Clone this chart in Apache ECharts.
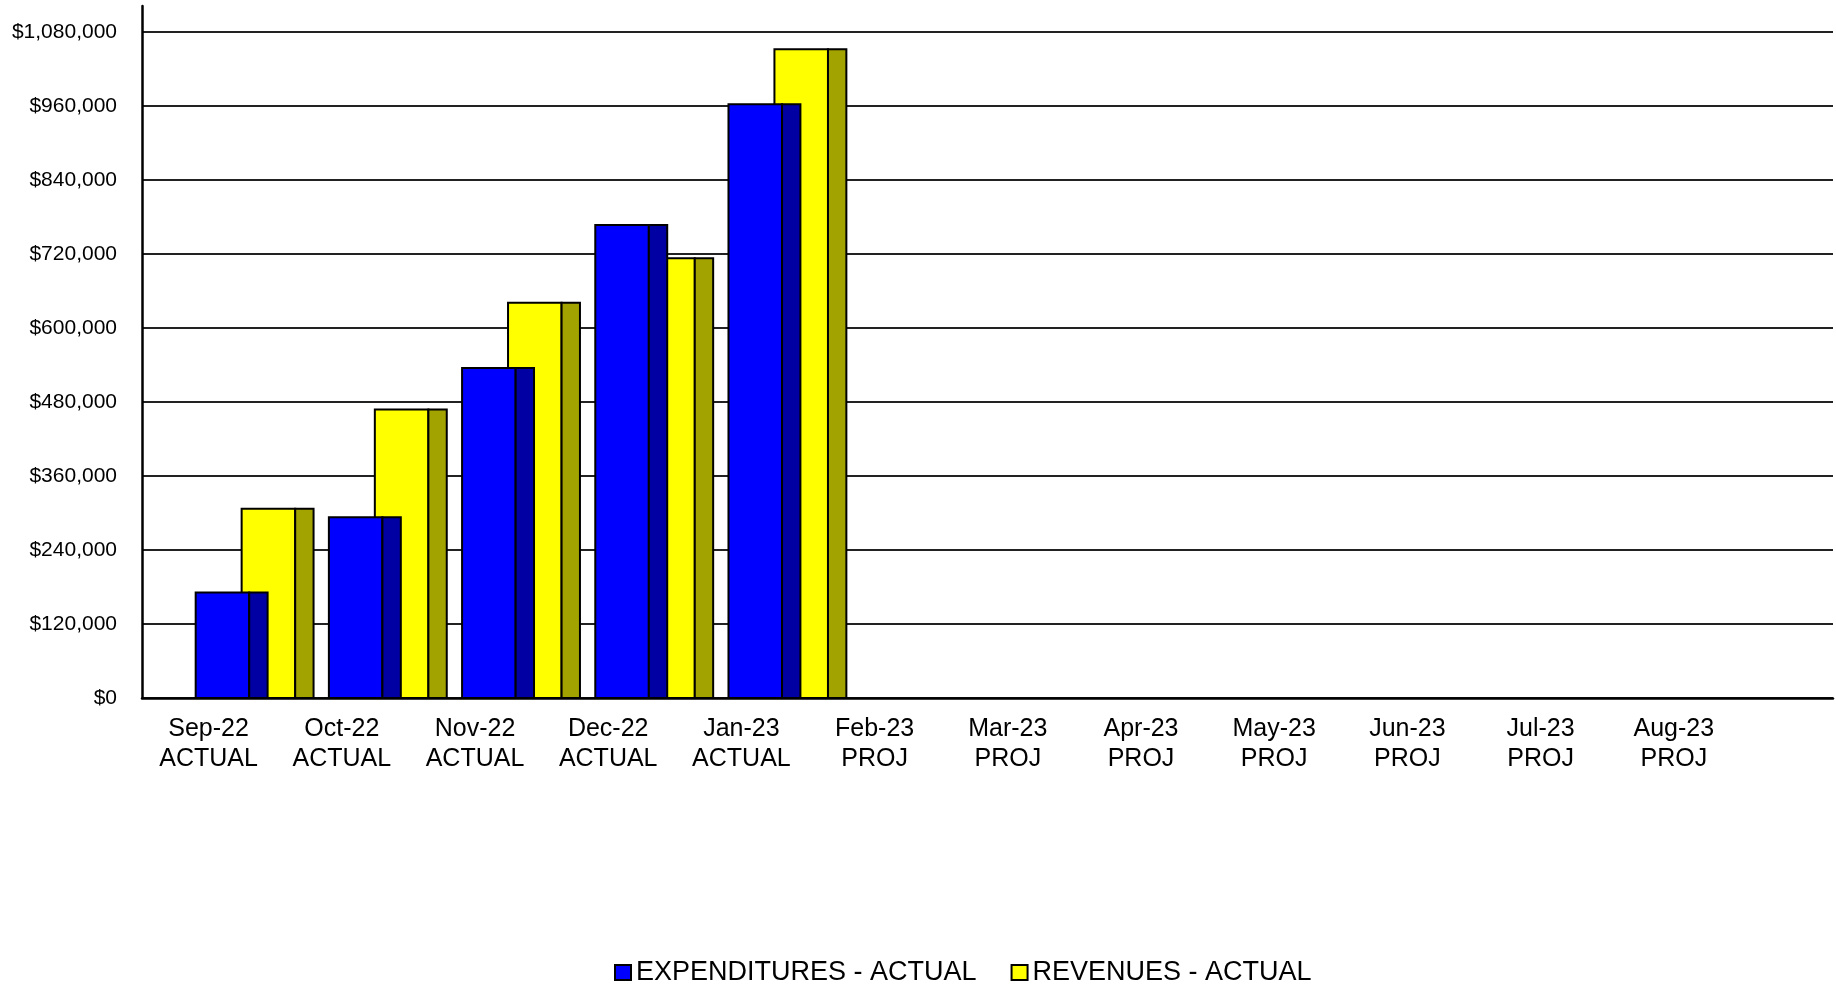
<!DOCTYPE html>
<html lang="en">
<head>
    <meta charset="UTF-8">
    <title>Expenditures vs Revenues</title>
    <style>
        html, body { margin: 0; padding: 0; background: #fff; }
        #main { width: 1836px; height: 986px; }
    </style>
    <script src="https://cdn.jsdelivr.net/npm/echarts@6/dist/echarts.min.js"></script>
</head>
<body>
<div id="main"></div>
<script>
    // data
    const months = ['Sep-22', 'Oct-22', 'Nov-22', 'Dec-22', 'Jan-23', 'Feb-23',
        'Mar-23', 'Apr-23', 'May-23', 'Jun-23', 'Jul-23', 'Aug-23']
    const status = ['ACTUAL', 'ACTUAL', 'ACTUAL', 'ACTUAL', 'ACTUAL', 'PROJ',
        'PROJ', 'PROJ', 'PROJ', 'PROJ', 'PROJ', 'PROJ']
    const expenditures = [171000, 293000, 535000, 767000, 963000, null, null, null, null, null, null, null]
    const revenues = [307000, 468000, 641000, 713000, 1052000, null, null, null, null, null, null, null]
    const yMax = 1080000
    const yStep = 120000

    const categories = months.map((m, i) => m + '\n' + status[i])
    const FONT = '"Liberation Sans", Arial, sans-serif'

    // "3d" bar: front face plus darker side face, offsets as fraction of band width
    function barRenderer(front, side, start) {
        return function (params, api) {
            const v = api.value(1)
            if (v == null || isNaN(v)) return
            const idx = api.value(0)
            const base = api.coord([idx, 0])
            const top = api.coord([idx, v])
            const band = api.size([1, 0])[0]
            const x0 = base[0] + start * band
            const fw = 0.402 * band
            const sw = 0.138 * band
            const h = base[1] - top[1]
            const st = {stroke: '#000', lineWidth: 2}
            return {
                type: 'group',
                children: [
                    {type: 'rect', shape: {x: x0, y: top[1], width: fw, height: h},
                        style: Object.assign({fill: front}, st)},
                    {type: 'rect', shape: {x: x0 + fw, y: top[1], width: sw, height: h},
                        style: Object.assign({fill: side}, st)}
                ]
            }
        }
    }

    const toPairs = arr => arr.map((v, i) => [i, v]).filter(d => d[1] != null)

    const chart = echarts.init(document.getElementById('main'))
    chart.setOption({
        animation: false,
        textStyle: {fontFamily: FONT},
        grid: [
            {left: 142, top: 32, bottom: 288, width: 1598.4},   // bars
            {left: 142, top: 32, bottom: 288, right: 3},         // gridlines
            {left: 142, top: 6, bottom: 288, width: 10}          // y axis line
        ],
        legend: {
            left: 609, top: 954,
            data: ['EXPENDITURES - ACTUAL', 'REVENUES - ACTUAL'],
            icon: 'rect', itemWidth: 16, itemHeight: 15, itemGap: 34,
            textStyle: {fontSize: 27, color: '#000', fontFamily: FONT}
        },
        xAxis: [
            {
                type: 'category', gridIndex: 0, data: categories,
                axisLine: {show: false}, axisTick: {show: false},
                axisLabel: {interval: 0, fontSize: 25, lineHeight: 30, color: '#000', margin: 16}
            },
            {
                type: 'value', gridIndex: 1, min: 0, max: 1,
                axisLine: {show: true, lineStyle: {color: '#000', width: 2.5}},
                axisTick: {show: false}, axisLabel: {show: false}, splitLine: {show: false}
            },
            {type: 'value', gridIndex: 2, show: false}
        ],
        yAxis: [
            {
                type: 'value', gridIndex: 0, min: 0, max: yMax, interval: yStep,
                axisLine: {show: false}, axisTick: {show: false}, splitLine: {show: false},
                axisLabel: {
                    fontSize: 21, color: '#000', margin: 25,
                    formatter: v => '$' + v.toLocaleString('en-US')
                }
            },
            {
                type: 'value', gridIndex: 1, min: 0, max: yMax, interval: yStep,
                axisLine: {show: false}, axisTick: {show: false}, axisLabel: {show: false},
                splitLine: {show: true, lineStyle: {color: '#222', width: 2}}
            },
            {
                type: 'value', gridIndex: 2, min: 0, max: 1,
                axisLine: {show: true, lineStyle: {color: '#000', width: 2.5}},
                axisTick: {show: false}, axisLabel: {show: false}, splitLine: {show: false}
            }
        ],
        series: [
            {
                name: 'REVENUES - ACTUAL', type: 'custom', xAxisIndex: 0, yAxisIndex: 0, z: 2,
                itemStyle: {color: '#FFFF00', borderColor: '#000', borderWidth: 1.5},
                renderItem: barRenderer('#FFFF00', '#A3A300', 0.248),
                encode: {x: 0, y: 1},
                data: toPairs(revenues)
            },
            {
                name: 'EXPENDITURES - ACTUAL', type: 'custom', xAxisIndex: 0, yAxisIndex: 0, z: 3,
                itemStyle: {color: '#0000FF', borderColor: '#000', borderWidth: 1.5},
                renderItem: barRenderer('#0000FF', '#0000A3', -0.097),
                encode: {x: 0, y: 1},
                data: toPairs(expenditures)
            }
        ]
    })
</script>
</body>
</html>
